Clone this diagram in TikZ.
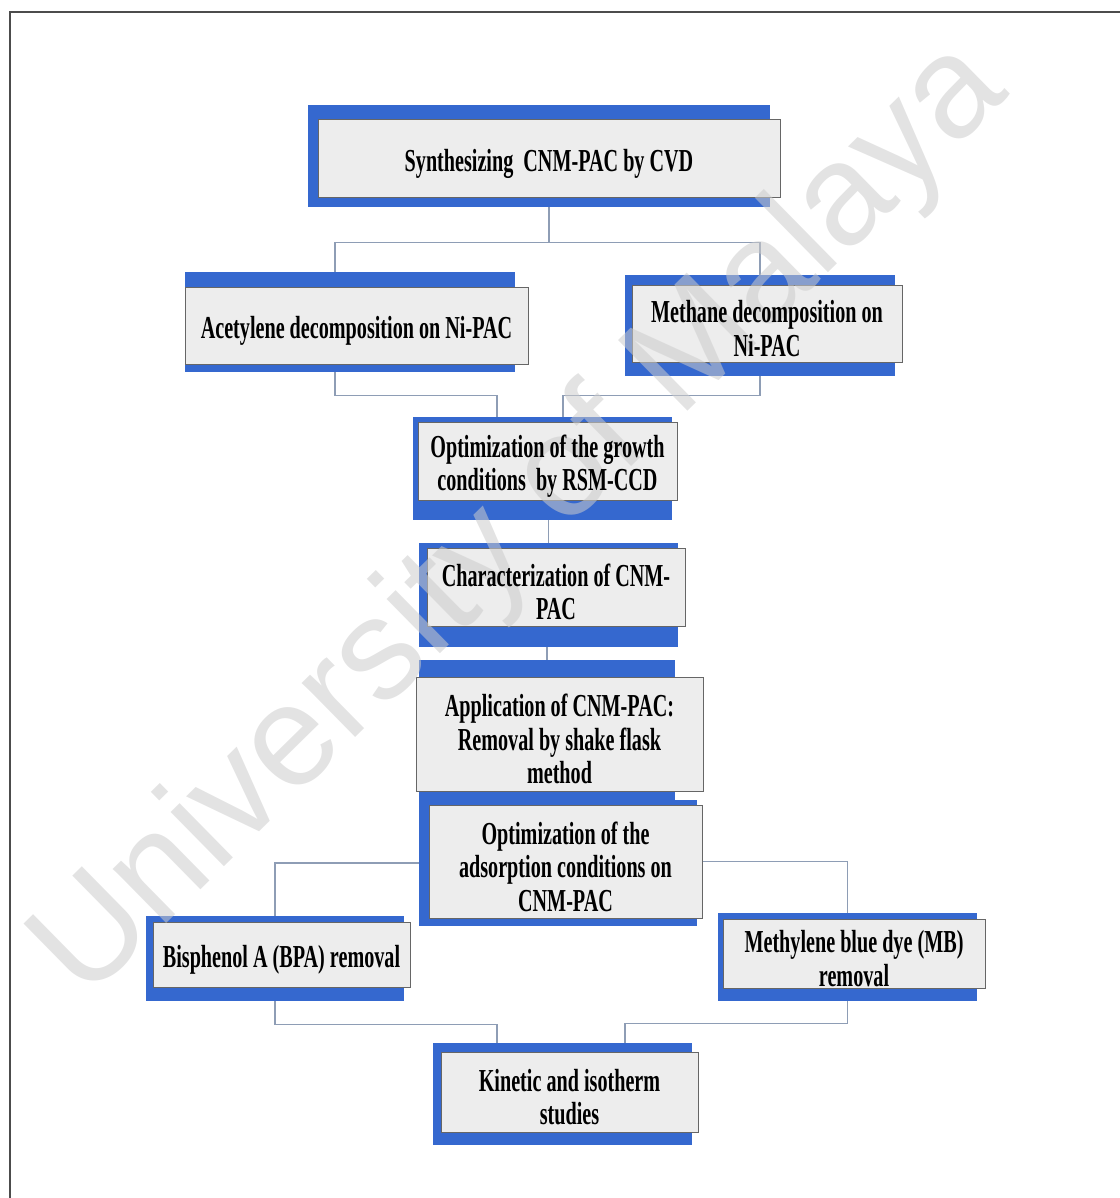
\documentclass[tikz,border=0pt]{standalone}
\usepackage{fontspec}
\newfontfamily\boxfont{Liberation Serif}[FakeStretch=0.63]
\newfontfamily\markfont{Liberation Sans}
\definecolor{boxblue}{HTML}{3568CF}
\definecolor{boxgray}{HTML}{EDEDED}
\definecolor{linkgray}{HTML}{8E9DB5}

\begin{document}
\begin{tikzpicture}[x=0.5pt, y=-0.5pt,
		back/.style={fill=boxblue, inner sep=0pt},
		card/.style={fill=boxgray, draw=black!60, line width=0.5pt, inner sep=0pt},
		word/.style={inner sep=0pt, align=center, yshift=-2.5pt,
			font=\boxfont\bfseries\fontsize{16}{16.75}\selectfont},
		link/.style={draw=linkgray, line width=0.7pt}]
		\useasboundingbox (0,0) rectangle (1119,1198);
		\draw [black!70, line width=1pt] (10,12) rectangle (1140,1220);

		% blue backs, then the grey cards on top
		\node [back, minimum width=231pt, minimum height=51pt] (synthB) at (539,156) {};
		\node [card, minimum width=231pt, minimum height=39pt] (synth) at (549,159) {};

		\node [back, minimum width=165pt, minimum height=50pt] (acetB) at (350,322) {};
		\node [card, minimum width=171.5pt, minimum height=38.5pt] (acet) at (356.5,325.5) {};

		\node [back, minimum width=135pt, minimum height=50.5pt] (methB) at (760,325.5) {};
		\node [card, minimum width=135pt, minimum height=38.5pt] (meth) at (767,323.5) {};

		\node [back, minimum width=129.5pt, minimum height=51.5pt] (optgB) at (542.5,468.5) {};
		\node [card, minimum width=129.5pt, minimum height=39pt] (optg) at (547.5,461) {};

		\node [back, minimum width=129.5pt, minimum height=52pt] (charB) at (548.5,595) {};
		\node [card, minimum width=129pt, minimum height=39pt] (char) at (556,587) {};

		\node [back, minimum width=139pt, minimum height=63pt] (optaB) at (558,863) {};
		\node [back, minimum width=128pt, minimum height=71.5pt] (applB) at (547,731.5) {};
		\node [card, minimum width=143.5pt, minimum height=57pt] (appl) at (559.5,734) {};
		\node [card, minimum width=136.5pt, minimum height=56.5pt] (opta) at (565.5,861.5) {};

		\node [back, minimum width=129pt, minimum height=42.5pt] (bisphB) at (275,958.5) {};
		\node [card, minimum width=128.5pt, minimum height=32.5pt] (bisph) at (281.5,954.5) {};

		\node [back, minimum width=129.5pt, minimum height=44pt] (mblueB) at (847.5,957) {};
		\node [card, minimum width=131pt, minimum height=34.5pt] (mblue) at (854,953.5) {};

		\node [back, minimum width=129.5pt, minimum height=51pt] (kinB) at (562.5,1094) {};
		\node [card, minimum width=128.5pt, minimum height=40pt] (kin) at (569.5,1092) {};

		% connectors
		\draw [link] (synth.south |- synthB.south) -- ++(0,35) coordinate (fork1);
		\draw [link] ([xshift=-7.5pt]acetB.north) |- (fork1) -| (methB.north);
		\draw [link] ([xshift=-7.5pt]acetB.south) -- ++(0,23) -| ([xshift=-22.75pt]optgB.north);
		\draw [link] (methB.south) -- ++(0,19) -| ([xshift=10.25pt]optgB.north);
		\draw [link] (charB.north |- optgB.south) -- (charB.north);
		\draw [link] (applB.north |- charB.south) -- (applB.north);
		\draw [link] (optaB.west) -| (bisphB.north);
		\draw [link] (opta.east) -| (mblueB.north);
		\draw [link] (bisphB.south) -- ++(0,23) -| ([xshift=-32.75pt]kinB.north);
		\draw [link] (mblueB.south) -- ++(0,22) -| ([xshift=31.25pt]kinB.north);

		% watermark over the boxes, under the words
		\node [text=black!20, opacity=.55, rotate=44.5, inner sep=0pt,
			font=\markfont\fontsize{72}{76}\selectfont] (mark) at (522,522) {University of Malaya};

		\node [word] (synthT) at (synth) {Synthesizing\ \ CNM-PAC by CVD};
		\node [word] (acetT) at (acet) {Acetylene decomposition on Ni-PAC};
		\node [word] (methT) at (meth) {Methane decomposition on\\Ni-PAC};
		\node [word] (optgT) at (optg) {Optimization of the growth\\conditions\ \ by RSM-CCD};
		\node [word] (charT) at (char) {Characterization of CNM-\\PAC};
		\node [word] (applT) at (appl) {Application of CNM-PAC:\\Removal by shake flask\\method};
		\node [word] (optaT) at (opta) {Optimization of the\\adsorption conditions on\\CNM-PAC};
		\node [word] (bisphT) at (bisph) {Bisphenol A (BPA) removal};
		\node [word] (mblueT) at (mblue) {Methylene blue dye (MB)\\removal};
		\node [word] (kinT) at (kin) {Kinetic and isotherm\\studies};
	\end{tikzpicture}
\end{document}
